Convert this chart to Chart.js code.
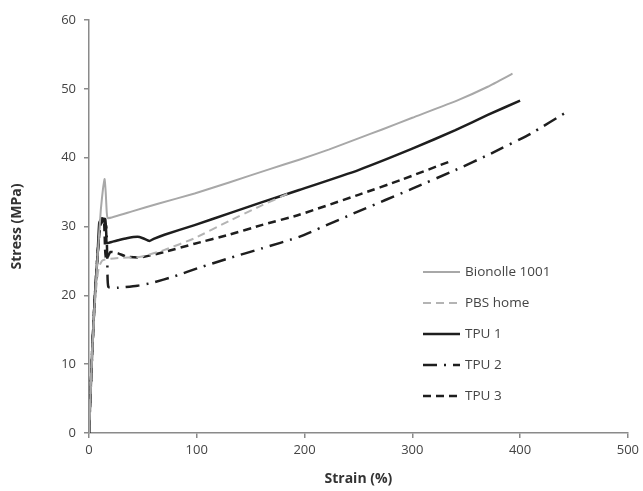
<!DOCTYPE html>
<html>
<head>
<meta charset="utf-8">
<script src="https://cdn.jsdelivr.net/npm/chart.js@4/dist/chart.umd.min.js"></script>
<style>
  html, body { margin: 0; padding: 0; background: #fff; }
  #wrap { width: 643px; height: 491px; }
</style>
</head>
<body>
<div id="wrap"><canvas id="chart"></canvas></div>
<script>
// tick labels
const xTicks = [0, 100, 200, 300, 400, 500];
const yTicks = [0, 10, 20, 30, 40, 50, 60];

// series (strain %, stress MPa)
const seriesNames = ["Bionolle 1001", "PBS home", "TPU 1", "TPU 2", "TPU 3"];

const bionolleStrain = [0, 3, 6, 9, 11, 13, 14.5, 15.5, 16.5, 17.5, 40, 64, 98, 130, 167, 195, 223, 250, 272, 300, 343, 370, 393];
const bionolleStress = [0, 12, 21, 28, 32.5, 35.5, 36.9, 35, 32, 31.2, 32.2, 33.3, 34.8, 36.4, 38.3, 39.7, 41.2, 42.8, 44.1, 45.8, 48.4, 50.3, 52.2];

const pbsStrain = [0, 3, 6, 9, 12, 15, 25, 48, 70, 98, 130, 158, 185];
const pbsStress = [0, 12, 20, 24, 25, 25.2, 25.4, 25.6, 26.6, 28.3, 30.8, 32.9, 34.8];

const tpu1Strain = [0, 3, 5.5, 8, 9.5, 11.5, 15, 16, 16.5, 22, 27, 35, 45, 50, 56, 60, 70, 98, 130, 160, 195, 250, 300, 340, 370, 400];
const tpu1Stress = [0, 12, 20, 26, 30.5, 31.1, 31.1, 29, 27.6, 27.8, 28.0, 28.3, 28.5, 28.3, 27.9, 28.2, 28.8, 30.2, 31.9, 33.5, 35.3, 38.2, 41.3, 44.0, 46.2, 48.3];

const tpu2Strain = [0, 3, 5.5, 8, 10, 13, 16, 17, 18, 27, 45, 58, 80, 102, 130, 160, 195, 250, 300, 340, 373, 410, 445];
const tpu2Stress = [0, 12, 20, 26, 29.5, 31, 30, 25, 21.2, 21.1, 21.4, 21.8, 22.8, 24.0, 25.4, 26.8, 28.5, 32.2, 35.5, 38.2, 40.6, 43.5, 46.8];

const tpu3Strain = [0, 3, 5.5, 8, 10, 12, 14, 15, 16, 20, 27, 35, 48, 70, 98, 130, 160, 195, 250, 290, 334];
const tpu3Stress = [0, 12, 20, 26, 29.5, 31.2, 30.5, 26.5, 25.2, 26.3, 26.1, 25.6, 25.5, 26.3, 27.5, 28.8, 30.2, 31.7, 34.6, 36.8, 39.4];

function toPoints(xs, ys) {
  return xs.map((x, i) => ({ x: x, y: ys[i] }));
}

const textColor = "#444";
const axisColor = "#8a8a8a";
const fontFamily = "'Open Sans', Lato, sans-serif";

// legend drawn inside the plot area, like the original
const insideLegend = {
  id: "insideLegend",
  afterDatasetsDraw(chart) {
    const ctx = chart.ctx;
    const x0 = 423, x1 = 460, tx = 465;
    const rows = [272, 303, 334, 365, 396];
    ctx.save();
    chart.data.datasets.forEach((ds, i) => {
      const y = rows[i];
      ctx.beginPath();
      ctx.strokeStyle = ds.borderColor;
      ctx.lineWidth = ds.borderWidth;
      ctx.setLineDash(ds.borderDash || []);
      ctx.moveTo(x0, y);
      ctx.lineTo(x1, y);
      ctx.stroke();
      ctx.setLineDash([]);
      ctx.fillStyle = textColor;
      ctx.font = "13.5px " + fontFamily;
      ctx.textBaseline = "middle";
      ctx.textAlign = "left";
      ctx.fillText(ds.label, tx, y);
    });
    ctx.restore();
  },
};

const ctx = document.getElementById("chart").getContext("2d");
new Chart(ctx, {
  type: "line",
  data: {
    datasets: [
      {
        label: seriesNames[0],
        data: toPoints(bionolleStrain, bionolleStress),
        borderColor: "#a8a8a8",
        borderWidth: 2,
      },
      {
        label: seriesNames[1],
        data: toPoints(pbsStrain, pbsStress),
        borderColor: "#b4b4b4",
        borderWidth: 2,
        borderDash: [8, 5],
      },
      {
        label: seriesNames[2],
        data: toPoints(tpu1Strain, tpu1Stress),
        borderColor: "#1e1e1e",
        borderWidth: 2.5,
      },
      {
        label: seriesNames[3],
        data: toPoints(tpu2Strain, tpu2Stress),
        borderColor: "#1e1e1e",
        borderWidth: 2.5,
        borderDash: [14, 7, 2, 7],
      },
      {
        label: seriesNames[4],
        data: toPoints(tpu3Strain, tpu3Stress),
        borderColor: "#1e1e1e",
        borderWidth: 2.5,
        borderDash: [8, 5],
      },
    ],
  },
  options: {
    responsive: true,
    maintainAspectRatio: false,
    animation: false,
    layout: { padding: { top: 20, right: 13, left: 0, bottom: 0 } },
    elements: {
      point: { radius: 0 },
      line: { tension: 0.15, borderCapStyle: "butt" },
    },
    scales: {
      x: {
        type: "linear",
        min: 0,
        max: 500,
        afterBuildTicks: (scale) => {
          scale.ticks = xTicks.map((v) => ({ value: v }));
        },
        afterFit: (scale) => {
          scale.height = 58;
        },
        border: { color: axisColor, width: 1.5 },
        grid: {
          display: true,
          drawOnChartArea: false,
          drawTicks: true,
          tickLength: 5,
          color: axisColor,
          lineWidth: 1.5,
        },
        ticks: {
          color: textColor,
          font: { family: fontFamily, size: 13 },
          padding: 4,
          maxRotation: 0,
        },
        title: {
          display: true,
          text: "Strain (%)",
          color: "#333",
          font: { family: fontFamily, size: 14, weight: "bold" },
          padding: { top: 0, bottom: 4 },
        },
      },
      y: {
        type: "linear",
        min: 0,
        max: 60,
        afterBuildTicks: (scale) => {
          scale.ticks = yTicks.map((v) => ({ value: v }));
        },
        afterFit: (scale) => {
          scale.width = 89;
        },
        border: { color: axisColor, width: 1.5 },
        grid: {
          display: true,
          drawOnChartArea: false,
          drawTicks: true,
          tickLength: 5,
          color: axisColor,
          lineWidth: 1.5,
        },
        ticks: {
          color: textColor,
          font: { family: fontFamily, size: 13 },
          padding: 8,
        },
        title: {
          display: true,
          text: "Stress (MPa)",
          color: "#333",
          font: { family: fontFamily, size: 14, weight: "bold" },
          padding: { top: 9, bottom: 0 },
        },
      },
    },
    plugins: {
      legend: { display: false },
      tooltip: { enabled: false },
    },
  },
  plugins: [insideLegend],
});
</script>
</body>
</html>
